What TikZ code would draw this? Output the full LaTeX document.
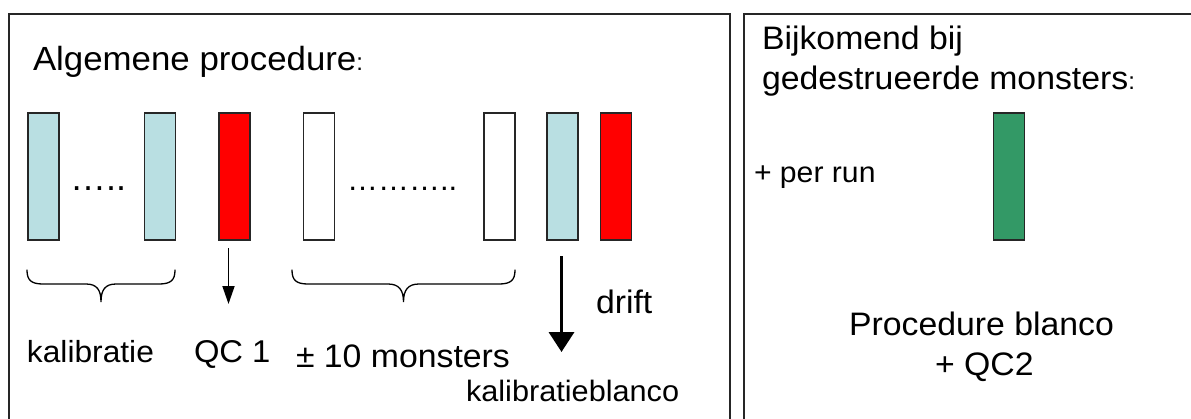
\documentclass[tikz,border=0pt]{standalone}
\usepackage{fontspec}
\setmainfont{Liberation Sans}
\usetikzlibrary{arrows.meta}
\newcommand{\txt}[2]{{\fontsize{#1}{#1}\selectfont\scalebox{1.04}[1]{#2}}}
\newcommand{\smcolon}{{\fontsize{24}{24}\selectfont :}}
\definecolor{lightbar}{RGB}{185,223,226}
\definecolor{redbar}{RGB}{255,0,0}
\definecolor{greenbar}{RGB}{51,153,102}
\tikzset{
  panel/.style={draw=black!85, line width=2pt},
  bar/.style={draw=black!85, line width=1.5pt, minimum width=31pt, minimum height=127pt, inner sep=0pt, anchor=north west},
  lbl/.style={anchor=base west, inner sep=0pt, outer sep=0pt, text=black},
  brc/.style={draw=black, line width=1.3pt, line cap=round},
  thinarr/.style={draw=black, line width=1.8pt, -{Triangle[length=18pt,width=12pt]}},
  thickarr/.style={draw=black, line width=3.6pt, -{Triangle[length=20pt,width=25pt]}},
}
\begin{document}
\begin{tikzpicture}[x=1pt,y=-1pt]
\useasboundingbox (0,0) rectangle (1191,418);
\clip (0,0) rectangle (1191,418);
\fill[white] (0,0) rectangle (1191,418);
% panels
\draw[panel] (8.7,440) -- (8.7,13.5) -- (730,13.5) -- (730,440);
\draw[panel] (744,440) -- (744,13.5) -- (1200,13.5);
% left panel
\node[lbl] (title) at (33,70) {\txt{33.5}{Algemene procedure}\smcolon};
\node[bar, fill=lightbar] (b1) at (27,112) {};
\node[bar, fill=lightbar] (b2) at (143.5,112) {};
\node[bar, fill=redbar] (r1) at (218,112) {};
\node[bar, fill=white] (w1) at (302.5,112) {};
\node[bar, fill=white] (w2) at (483,112) {};
\node[bar, fill=lightbar] (b3) at (546,112) {};
\node[bar, fill=redbar] (r2) at (599.5,112) {};
\node[lbl] (dots1) at (70,190) {\fontsize{36}{36}\selectfont …..};
\node[lbl] (dots2) at (347,190) {\fontsize{31}{31}\selectfont ………..};
% braces
\draw[brc] (27,270) .. controls (27,280) and (31,284) .. (43,284) -- (86,284)
  .. controls (97,284) and (101,290) .. (101,302)
  .. controls (101,290) and (105,284) .. (116,284) -- (159,284)
  .. controls (171,284) and (175,280) .. (175,270);
\draw[brc] (292,270) .. controls (292,280) and (296,284) .. (308,284) -- (388,284)
  .. controls (399,284) and (403.5,290) .. (403.5,302)
  .. controls (403.5,290) and (408,284) .. (419,284) -- (499,284)
  .. controls (511,284) and (515,280) .. (515,270);
% arrows
\coordinate (qa) at (228.5,248);
\coordinate (qb) at (228.5,304);
\draw[thinarr] (qa) -- (qb);
\coordinate (da) at (561.5,256);
\coordinate (db) at (561.5,352);
\draw[thickarr] (da) -- (db);
% labels
\node[lbl] (kal) at (27,362) {\txt{30.5}{kalibratie}};
\node[lbl] (qc1) at (194,362) {\txt{31.5}{QC 1}};
\node[lbl] (mon) at (296,367) {\txt{32.5}{± 10 monsters}};
\node[lbl] (drift) at (596,313) {\txt{32.5}{drift}};
\node[lbl] (kalbl) at (466,401) {\txt{29.5}{kalibratieblanco}};
% right panel
\node[lbl] (bij1) at (762,49) {\txt{32.5}{Bijkomend bij}};
\node[lbl] (bij2) at (762,89) {\txt{32.5}{gedestrueerde monsters}\smcolon};
\node[lbl] (perrun) at (754,182) {\txt{29}{+ per run}};
\node[bar, fill=greenbar] (g1) at (992.5,112) {};
\node[lbl] (proc) at (849,335) {\txt{32.5}{Procedure blanco}};
\node[lbl] (qc2) at (935,375) {\txt{32.5}{+ QC2}};
\end{tikzpicture}
\end{document}
